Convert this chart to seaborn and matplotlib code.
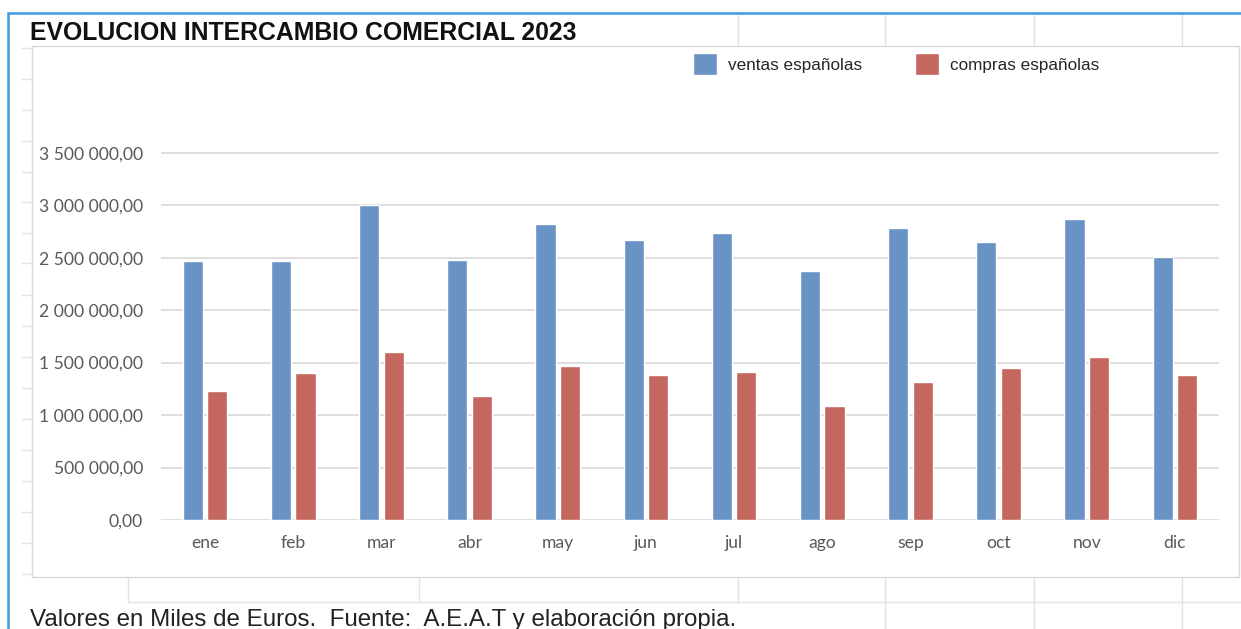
import matplotlib
matplotlib.use("Agg")
import matplotlib.pyplot as plt
from matplotlib.lines import Line2D
from matplotlib.patches import Rectangle
import numpy as np
import pandas as pd
import seaborn as sns

# datos (miles de euros)
meses = ['ene', 'feb', 'mar', 'abr', 'may', 'jun', 'jul', 'ago', 'sep', 'oct', 'nov', 'dic']
ventas = [2466000, 2466000, 3005000, 2479000, 2819000, 2670000,
          2733000, 2373000, 2781000, 2652000, 2871000, 2502000]
compras = [1233000, 1398000, 1598000, 1185000, 1465000, 1383000,
           1408000, 1083000, 1319000, 1450000, 1557000, 1379000]
series = ['ventas españolas', 'compras españolas']
colores = {'ventas españolas': '#6992c5', 'compras españolas': '#c4685f'}
yticks = [0, 500000, 1000000, 1500000, 2000000, 2500000, 3000000, 3500000]

df = pd.DataFrame({
    'mes': meses * 2,
    'valor': ventas + compras,
    'serie': [series[0]] * len(meses) + [series[1]] * len(meses),
})

W, H = 1241, 629
sns.set_style('white')
plt.rcParams['font.family'] = ['Liberation Sans', 'DejaVu Sans']

fig = plt.figure(figsize=(W / 100, H / 100), dpi=100)
fig.patch.set_facecolor('white')

def px(x, y):
    return x / W, 1 - y / H

def hline(x0, x1, y, color='#e3e3e3', lw=1.0):
    (a, b), (c, _) = px(x0, y), px(x1, y)
    fig.add_artist(Line2D([a, c], [b, b], color=color, lw=lw, zorder=-2))

def vline(x, y0, y1, color='#e3e3e3', lw=1.0):
    (a, b), (_, d) = px(x, y0), px(x, y1)
    fig.add_artist(Line2D([a, a], [b, d], color=color, lw=lw, zorder=-2))

# fondo de hoja de calculo
for y in [48, 79, 110, 141, 172, 202, 233, 263, 295, 326, 357, 388, 419, 450, 481, 512, 543, 574]:
    hline(22, 32, y)
for x in [738, 885, 1034, 1182]:
    vline(x, 13, 46)
hline(128, W, 602)
for x in [128, 419, 738]:
    vline(x, 577, 602)
for x in [885, 1034, 1182]:
    vline(x, 577, H)

# marco del grafico
x0, y0 = px(32, 577)
fig.add_artist(Rectangle((x0, y0), (1239 - 32) / W, (577 - 46) / H,
                         transform=fig.transFigure, facecolor='white',
                         edgecolor='#d9d9d9', lw=1.0, zorder=-1))

# borde azul de seleccion
hline(8, W, 13, color='#3d9be6', lw=1.8)
vline(8, 13, H, color='#3d9be6', lw=1.8)

ax = fig.add_axes([161 / W, 1 - 520 / H, (1219 - 161) / W, (520 - 152) / H])
ax.set_facecolor('none')
sns.barplot(data=df, x='mes', y='valor', hue='serie', hue_order=series,
            palette=colores, width=0.557, gap=0.175, saturation=1,
            errorbar=None, ax=ax)

ax.set_ylim(0, 3500000 * 1.002)
ax.set_xlim(-0.5, len(meses) - 0.5)
ax.set_yticks(yticks)
ax.set_yticklabels([f'{v:,.2f}'.replace(',', ' ').replace('.', ',') for v in yticks])
ax.yaxis.grid(True, color='#d9d9d9', lw=1.2)
ax.set_axisbelow(True)
for s in ax.spines.values():
    s.set_visible(False)
ax.set_xlabel('')
ax.set_ylabel('')
ax.tick_params(axis='y', length=0, pad=13, labelsize=12.6, labelcolor='#595959')
ax.tick_params(axis='x', length=0, pad=11, labelsize=12.6, labelcolor='#595959')
for lab in ax.get_xticklabels() + ax.get_yticklabels():
    lab.set_family(['Lato', 'DejaVu Sans'])

handles, labels = ax.get_legend_handles_labels()
ax.legend(handles, labels, ncol=2, frameon=False, fontsize=12.3,
          loc='center left', bbox_to_anchor=px(693, 64),
          bbox_transform=fig.transFigure,
          handlelength=1.4, handleheight=1.6, handletextpad=0.65,
          columnspacing=3.1, borderpad=0, borderaxespad=0)

fig.text(*px(30, 33), 'EVOLUCION INTERCAMBIO COMERCIAL 2023', fontsize=17.8,
         fontweight='bold', color='#111111', va='center', ha='left')
fig.text(*px(30, 626), 'Valores en Miles de Euros.  Fuente:  A.E.A.T y elaboración propia.',
         fontsize=17.4, color='#222222', va='baseline', ha='left')

fig.savefig('out.png', dpi=100, facecolor='white')
